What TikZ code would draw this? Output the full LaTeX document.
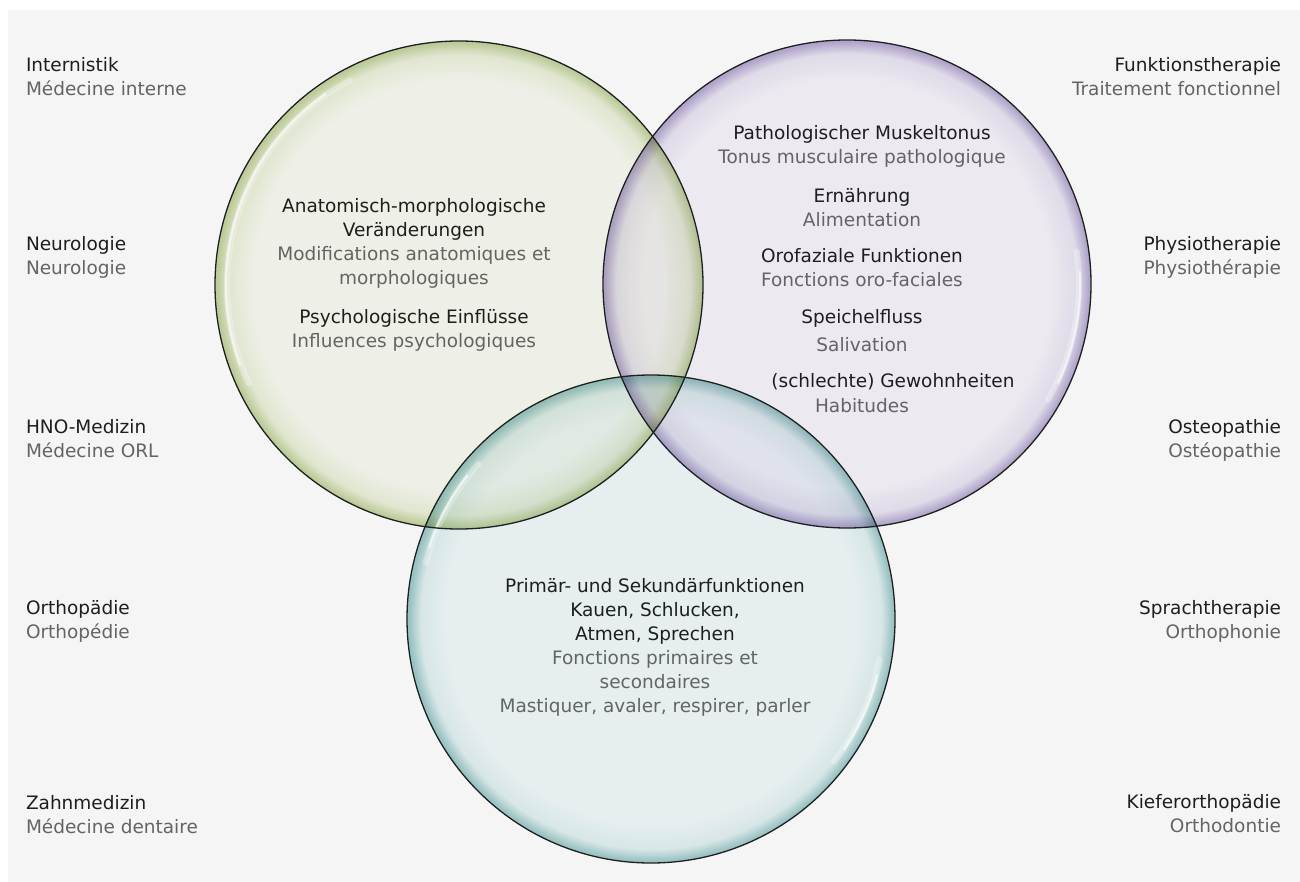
\documentclass[tikz,border=0pt]{standalone}
\usepackage{fontspec}
\setmainfont{DejaVu Sans}
\usetikzlibrary{calc}
\definecolor{panel}{RGB}{245,245,245}
\definecolor{deC}{RGB}{30,30,30}
\definecolor{frC}{RGB}{100,100,100}
\definecolor{edgeC}{RGB}{28,32,30}
\definecolor{gIn}{RGB}{248,250,241}
\definecolor{gMid}{RGB}{234,240,217}
\definecolor{gRim}{RGB}{196,212,160}
\definecolor{pIn}{RGB}{246,243,250}
\definecolor{pMid}{RGB}{233,228,242}
\definecolor{pRim}{RGB}{186,172,212}
\definecolor{tIn}{RGB}{241,248,250}
\definecolor{tMid}{RGB}{224,240,240}
\definecolor{tRim}{RGB}{160,202,202}
\pgfdeclareradialshading{greenball}{\pgfpoint{0bp}{0bp}}{color(0bp)=(gIn); color(21bp)=(gIn); color(23.6bp)=(gMid); color(24.8bp)=(gRim); color(25bp)=(gRim); color(50bp)=(gRim)}
\pgfdeclareradialshading{purpleball}{\pgfpoint{0bp}{0bp}}{color(0bp)=(pIn); color(21bp)=(pIn); color(23.6bp)=(pMid); color(24.8bp)=(pRim); color(25bp)=(pRim); color(50bp)=(pRim)}
\pgfdeclareradialshading{tealball}{\pgfpoint{0bp}{0bp}}{color(0bp)=(tIn); color(21bp)=(tIn); color(23.6bp)=(tMid); color(24.8bp)=(tRim); color(25bp)=(tRim); color(50bp)=(tRim)}
\newcommand\lblfont{\fontsize{18.5}{24}\selectfont}
\newcommand\fr[1]{{\color{frC}#1}}
\tikzset{
  lab/.style={inner sep=0pt, outer sep=0pt, font=\lblfont, text=deC},
  leftlab/.style={lab, anchor=north west, align=left},
  rightlab/.style={lab, anchor=north east, align=right},
  midlab/.style={lab, anchor=north, align=center},
  rimline/.style={draw=edgeC, line width=1.3pt},
  hlwide/.style={draw=white, line width=6pt, opacity=0.3, line cap=round},
  hlthin/.style={draw=white, line width=2.2pt, opacity=0.6, line cap=round},
}
\begin{document}
\begin{tikzpicture}[x=1pt,y=-1pt]
\useasboundingbox (0,0) rectangle (1300,882);
\fill[white] (0,0) rectangle (1300,882);
\fill[panel] (8,10) rectangle (1300,882);
\coordinate (G) at (459,285);
\coordinate (P) at (847,284);
\coordinate (T) at (651,619);
% circle fills
\shade[shading=greenball, blend mode=multiply] (G) circle[radius=244pt];
\shade[shading=purpleball, blend mode=multiply] (P) circle[radius=244pt];
\shade[shading=tealball, blend mode=multiply] (T) circle[radius=244pt];
% highlights
\draw[hlwide] (G) ++(118:232pt) arc[start angle=118, end angle=205, radius=232pt];
\draw[hlthin] (G) ++(125:233pt) arc[start angle=125, end angle=200, radius=233pt];
\draw[hlwide] (P) ++(-30:232pt) arc[start angle=-30, end angle=8, radius=232pt];
\draw[hlthin] (P) ++(-25:233pt) arc[start angle=-25, end angle=3, radius=233pt];
\draw[hlwide] (T) ++(138:232pt) arc[start angle=138, end angle=166, radius=232pt];
\draw[hlthin] (T) ++(142:233pt) arc[start angle=142, end angle=162, radius=233pt];
\draw[hlwide] (T) ++(-38:232pt) arc[start angle=-38, end angle=-10, radius=232pt];
\draw[hlthin] (T) ++(-34:233pt) arc[start angle=-34, end angle=-14, radius=233pt];
% outlines
\draw[rimline] (G) circle[radius=244pt];
\draw[rimline] (P) circle[radius=244pt];
\draw[rimline] (T) circle[radius=244pt];
% left labels
\node[leftlab] (l1) at (26,55.2) {\strut Internistik\\\fr{Médecine interne}};
\node[leftlab] (l2) at (26,234.2) {\strut Neurologie\\\fr{Neurologie}};
\node[leftlab] (l3) at (26,416.2) {\strut HNO-Medizin\\\fr{Médecine ORL}};
\node[leftlab] (l4) at (26,597.2) {\strut Orthopädie\\\fr{Orthopédie}};
\node[leftlab] (l5) at (26,792.2) {\strut Zahnmedizin\\\fr{Médecine dentaire}};
% right labels
\node[rightlab] (r1) at (1281,55.2) {\strut Funktionstherapie\\\fr{Traitement fonctionnel}};
\node[rightlab] (r2) at (1281,234.2) {\strut Physiotherapie\\\fr{Physiothérapie}};
\node[rightlab] (r3) at (1281,416.2) {\strut Osteopathie\\\fr{Ostéopathie}};
\node[rightlab] (r4) at (1281,597.2) {\strut Sprachtherapie\\\fr{Orthophonie}};
\node[rightlab] (r5) at (1281,791.2) {\strut Kieferorthopädie\\\fr{Orthodontie}};
% green circle
\node[midlab] (g1) at (414,196.2) {\strut Anatomisch-morphologische\\Veränderungen\\\fr{Modifications anatomiques et}\\\fr{morphologiques}};
\node[midlab] (g2) at (414,306.2) {\strut Psychologische Einflüsse\\\fr{Influences psychologiques}};
% purple circle
\node[midlab] (p1) at (862,123.2) {\strut Pathologischer Muskeltonus\\\fr{Tonus musculaire pathologique}};
\node[midlab] (p2) at (862,186.2) {\strut Ernährung\\\fr{Alimentation}};
\node[midlab] (p3) at (862,246.2) {\strut Orofaziale Funktionen\\\fr{Fonctions oro-faciales}};
\node[midlab] (p4) at (862,306.2) {\strut Speichelfluss\\[4pt]\fr{Salivation}};
\node[midlab] (p5) at (893,370.2) {\strut (schlechte) Gewohnheiten};
\node[midlab] (p6) at (862,395.2) {\strut \fr{Habitudes}};
% teal circle
\node[midlab] (t1) at (655,575.2) {\strut Primär- und Sekundärfunktionen\\Kauen, Schlucken,\\Atmen, Sprechen\\\fr{Fonctions primaires et}\\\fr{secondaires}\\\fr{Mastiquer, avaler, respirer, parler}};
\end{tikzpicture}
\end{document}
